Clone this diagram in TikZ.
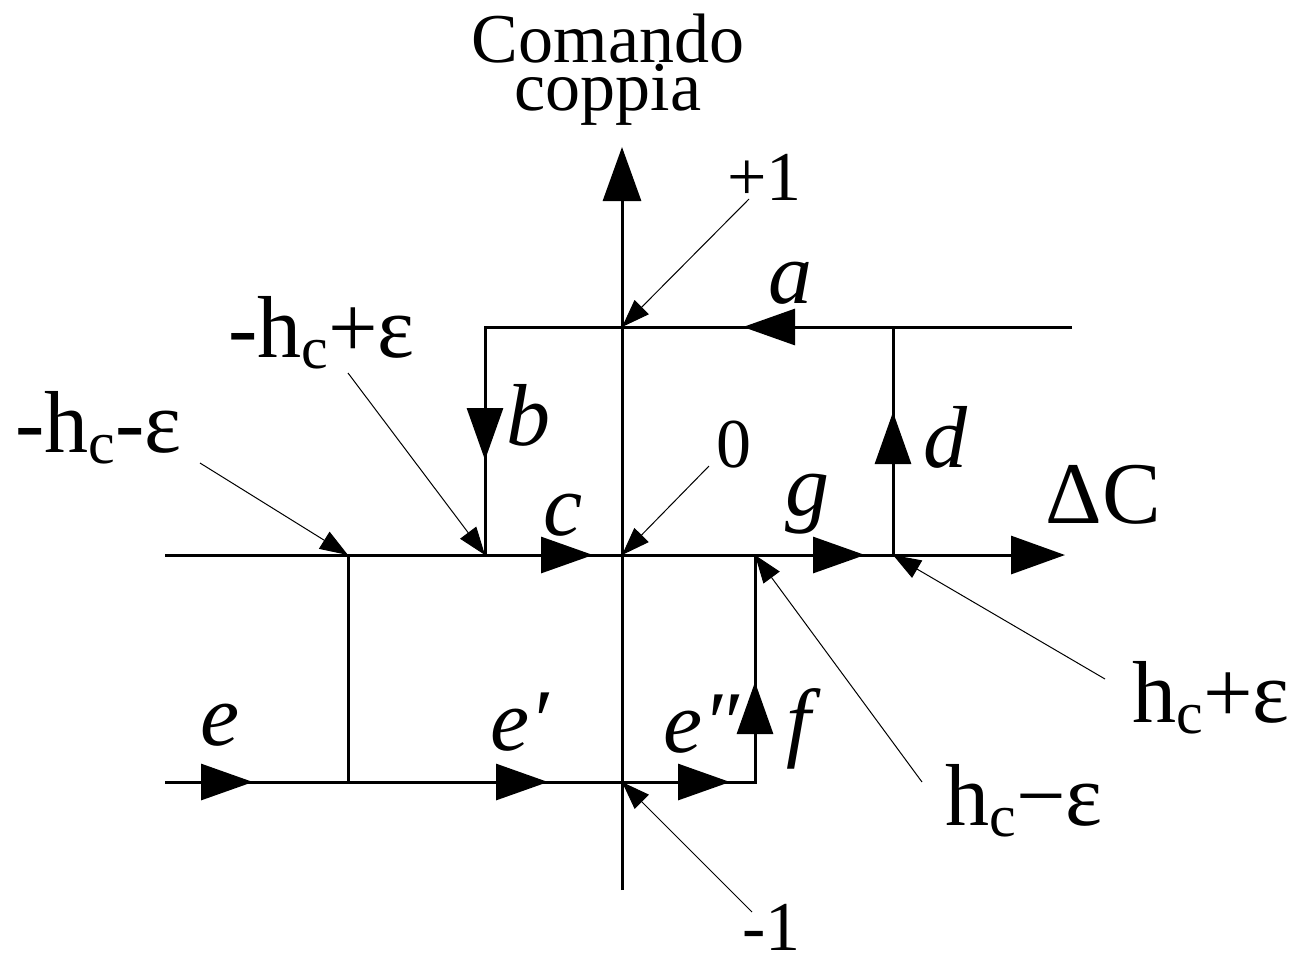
\documentclass[tikz,border=0pt]{standalone}
\usepackage{fontspec}
\setmainfont{Liberation Serif}
\usetikzlibrary{arrows.meta}
\newcommand{\mysub}[1]{\raisebox{-5.5pt}{\fontsize{30}{30}\selectfont #1}}
\begin{document}
\begin{tikzpicture}[x=0.5pt,y=-0.5pt,
  axis/.style={line width=1.5pt},
  axisarrow/.style={line width=1.5pt,-{Triangle[length=27pt,width=19pt]}},
  flow/.style={line width=1.5pt,-{Triangle[length=26pt,width=18pt]}},
  lead/.style={line width=0.5pt,-{Triangle[length=14pt,width=10pt]}},
  big/.style={font=\fontsize{44}{48}\selectfont, inner sep=0pt, anchor=base west},
  lab/.style={font=\fontsize{44}{48}\selectfont\itshape, inner sep=0pt, anchor=base west},
  mid/.style={font=\fontsize{35}{40}\selectfont, inner sep=0pt, anchor=base west}]
\useasboundingbox (0,0) rectangle (1294,955);
% key points
\coordinate (O) at (622,555);
\coordinate (P1) at (622,327);
\coordinate (M1) at (622,782);
\coordinate (UL) at (485,327);
\coordinate (UR) at (1072,327);
\coordinate (UD) at (893,327);
\coordinate (HnP) at (485,555);
\coordinate (HnM) at (348,555);
\coordinate (HpP) at (893,555);
\coordinate (HpM) at (755,555);
\coordinate (LL) at (165,782);
\coordinate (LnM) at (348,782);
\coordinate (LR) at (755,782);
\coordinate (Vbot) at (622,890);
\coordinate (Vtop) at (622,147);
\coordinate (Hleft) at (165,555);
\coordinate (Hright) at (1065,555);
% axes
\draw[axisarrow] (Vbot) -- (Vtop);
\draw[axisarrow] (Hleft) -- (Hright);
% hysteresis loop
\draw[axis] (UR) -- (UL) -- (HnP);
\draw[axis] (UD) -- (HpP);
\draw[axis] (LL) -- (LR) -- (HpM);
\draw[axis] (HnM) -- (LnM);
% flow arrows
\draw[flow] (796,327) -- (743,327);
\draw[flow] (485,407) -- (485,460);
\draw[flow] (540,555) -- (593,555);
\draw[flow] (893,465) -- (893,412);
\draw[flow] (812,555) -- (865,555);
\draw[flow] (200,782) -- (253,782);
\draw[flow] (496,782) -- (548,782);
\draw[flow] (677,782) -- (730,782);
\draw[flow] (755,735) -- (755,682);
% texts
\node[mid, font=\fontsize{35}{24}\selectfont, anchor=north, align=center] (t1) at (608,14) {Comando\\coppia};
\node[mid] (tp1) at (727,200) {+1};
\node[mid] (t0) at (716,467) {0};
\node[mid] (tm1) at (742,950) {-1};
\node[lab] (la) at (768,303) {a};
\node[lab] (lb) at (506,445) {b};
\node[lab] (lc) at (543,535) {c};
\node[lab] (ld) at (923,467) {d};
\node[lab] (lg) at (785,515) {g};
\node[lab] (le) at (200,745) {e};
\node[lab] (le1) at (490,750) {e′};
\node[lab] (le2) at (663,752) {e″};
\node[lab] (lf) at (786,750) {f};
\node[big] (dc) at (1045,523) {ΔC};
\node[big] (hnp) at (228,357) {-h\mysub{c}+ε};
\node[big] (hnm) at (15,452) {-h\mysub{c}-ε};
\node[big] (hpp) at (1132,722) {h\mysub{c}+ε};
\node[big] (hpm) at (945,825) {h\mysub{c}−ε};
% leader start points
\coordinate (sp1) at (749,199);
\coordinate (s0) at (709,466);
\coordinate (sm1) at (752,912);
\coordinate (shnp) at (348,373);
\coordinate (shnm) at (200,463);
\coordinate (shpp) at (1105,679);
\coordinate (shpm) at (922,782);
\draw[lead] (sp1) -- (P1);
\draw[lead] (s0) -- (O);
\draw[lead] (sm1) -- (M1);
\draw[lead] (shnp) -- (HnP);
\draw[lead] (shnm) -- (HnM);
\draw[lead] (shpp) -- (HpP);
\draw[lead] (shpm) -- (HpM);
\end{tikzpicture}
\end{document}
